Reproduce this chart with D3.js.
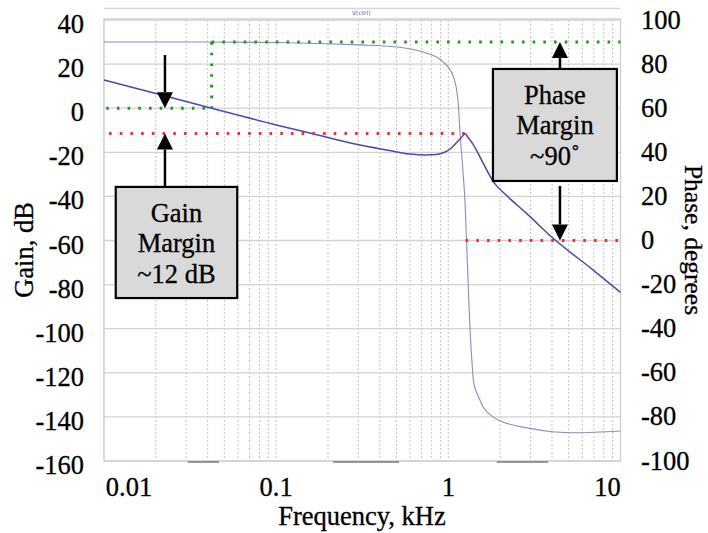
<!DOCTYPE html>
<html>
<head>
<meta charset="utf-8">
<script src="https://cdn.jsdelivr.net/npm/d3@7"></script>
<style>
  html, body { margin: 0; padding: 0; background: #fff; }
  svg { display: block; }
  text { font-family: "Liberation Serif", "Times New Roman", serif; fill: #000; stroke: #000; stroke-width: 0.3px; }
</style>
</head>
<body>
<svg id="chart" width="708" height="533"></svg>
<script>
// ---------------- data ----------------
const freqTicks = [0.01, 0.1, 1, 10];
const freqTickLabels = ["0.01", "0.1", "1", "10"];
const gainTicks = [40, 20, 0, -20, -40, -60, -80, -100, -120, -140, -160];
const phaseTicks = [100, 80, 60, 40, 20, 0, -20, -40, -60, -80, -100];

// Gain (dB) vs frequency (kHz)
const gainFreq = [0.01, 0.02, 0.0422, 0.1, 0.161, 0.307, 0.479, 0.6, 0.75, 0.85, 0.95, 1.05, 1.15, 1.22, 1.25, 1.30, 1.396, 1.595, 1.823, 2.18, 2.846, 4.06, 6.94, 10];
const gainDb   = [12.8, 6.7, 0, -7.6, -11.5, -16.7, -19.5, -20.8, -21.2, -21.0, -20.0, -17.8, -14.5, -12.4, -11.6, -13.2, -16.5, -25.0, -33.3, -39.6, -47.7, -59.0, -73.4, -83.5];

// Phase (degrees) vs frequency (kHz)
const phaseFreq = [0.01, 0.04, 0.1, 0.307, 0.48, 0.75, 0.93, 1.07, 1.14, 1.167, 1.22, 1.249, 1.29, 1.31, 1.34, 1.38, 1.40, 1.50, 1.59, 1.82, 1.95, 2.98, 4.0, 5.5, 10];
const phaseDeg  = [90, 90, 89.8, 88.7, 87.9, 84.9, 81.1, 74.3, 63, 50, 30, 18, -10, -24, -42, -58, -64, -71, -75.4, -80, -81.4, -85.2, -86.7, -87.2, -86.4];

// annotation values
const gainMarginDb = -11.5;
const gainCrossFreq = 0.0422;
const phaseMarginDeg = 90;
const gainRefRange = [0.0103, 0.0422];     // green 0 dB segment
const gainMarginRange = [0.0107, 1.353];   // red gain-margin line
const phaseZeroRange = [1.26, 10];         // red 0 deg line
const gainArrowFreq = 0.0226;
const phaseArrowFreq = 4.45;
const gainBox = { f0: 0.0117, f1: 0.0594, top: -35.7, bottom: -86.1, lines: ["Gain", "Margin", "~12 dB"] };
const phaseBox = { f0: 1.816, f1: 9.53, top: 77.8, bottom: 27, lines: ["Phase", "Margin", "~90\u02DA"] };
const gainArrowTop = 24.1;      // dB
const phaseArrowBottom = 24.7;  // deg
const bottomMarks = [[0.0307, 0.0466], [0.214, 0.517], [1.915, 3.79]];

// ---------------- layout ----------------
const L = 104, R = 620.5, T = 20, B = 461;
const svg = d3.select("#chart");
const x = d3.scaleLog().domain([0.01, 10]).range([L, R]);
const yG = d3.scaleLinear().domain([-160, 40]).range([B, T]);
const yP = d3.scaleLinear().domain([-100, 100]).range([B, T]);

// header strip
svg.append("line").attr("x1", L).attr("x2", R).attr("y1", 8.5).attr("y2", 8.5)
  .attr("stroke", "#d6d6d6").attr("stroke-width", 1.5);
svg.append("text").attr("x", 352).attr("y", 15).attr("font-size", 6)
  .style("fill", "#5a5ad0").style("stroke", "none").style("font-family", "DejaVu Sans").text("V(ctrl)");

// vertical minor grid
const vGrid = [];
[0.01, 0.1, 1].forEach(d => { for (let k = 1; k <= 9; k++) vGrid.push(d * k); });
vGrid.push(10);
svg.append("g").selectAll("line").data(vGrid).join("line")
  .attr("x1", d => x(d)).attr("x2", d => x(d)).attr("y1", T).attr("y2", B)
  .attr("stroke", "#c4c4c4").attr("stroke-width", 1).attr("stroke-dasharray", "2,2");

// horizontal grid
svg.append("g").selectAll("line").data(gainTicks).join("line")
  .attr("x1", L).attr("x2", R).attr("y1", d => yG(d)).attr("y2", d => yG(d))
  .attr("stroke", "#d2d2d2").attr("stroke-width", 1.3);

// frame
svg.append("rect").attr("x", L).attr("y", T - 1).attr("width", R - L).attr("height", B - T + 1)
  .attr("fill", "none").attr("stroke", "#cfcfcf").attr("stroke-width", 1.3);

// bottom marks
svg.append("g").selectAll("line").data(bottomMarks).join("line")
  .attr("x1", d => x(d[0])).attr("x2", d => x(d[1])).attr("y1", B + 1).attr("y2", B + 1)
  .attr("stroke", "#7a7a7a").attr("stroke-width", 1.5);

// curves
const phasePts = phaseFreq.map((f, i) => [f, phaseDeg[i]]);
const gainPts = gainFreq.map((f, i) => [f, gainDb[i]]);
svg.append("path").datum(phasePts)
  .attr("d", d3.line().x(d => x(d[0])).y(d => yP(d[1])).curve(d3.curveMonotoneX))
  .attr("fill", "none").attr("stroke", "#8a8ad0").attr("stroke-width", 1.1);
svg.append("path").datum(gainPts)
  .attr("d", d3.line().x(d => x(d[0])).y(d => yG(d[1])).curve(d3.curveMonotoneX))
  .attr("fill", "none").attr("stroke", "#4848b0").attr("stroke-width", 1.5);

// dotted reference lines
const dot = (x1, y1, x2, y2, col) => svg.append("line")
  .attr("x1", x1).attr("y1", y1).attr("x2", x2).attr("y2", y2)
  .attr("stroke", col).attr("stroke-width", 3).attr("stroke-dasharray", "2.6,8.1");
const green = "#1c9a1c", red = "#ff2a2a";
dot(x(gainRefRange[0]), yG(0), x(gainRefRange[1]), yG(0), green);
dot(x(gainCrossFreq), yP(phaseMarginDeg), x(gainCrossFreq), yG(0), green);
dot(x(gainCrossFreq), yP(phaseMarginDeg), R, yP(phaseMarginDeg), green);
dot(x(gainMarginRange[0]), yG(gainMarginDb), x(gainMarginRange[1]), yG(gainMarginDb), red);
dot(x(phaseZeroRange[0]), yP(0), x(phaseZeroRange[1]), yP(0), red);

// arrows
function arrow(xp, yFrom, yTo) {
  const dir = yTo > yFrom ? 1 : -1;
  const headLen = 16, headW = 8;
  svg.append("line").attr("x1", xp).attr("x2", xp).attr("y1", yFrom).attr("y2", yTo - dir * headLen)
    .attr("stroke", "#000").attr("stroke-width", 2.5);
  svg.append("path")
    .attr("d", `M${xp},${yTo} L${xp - headW},${yTo - dir * headLen} L${xp + headW},${yTo - dir * headLen} Z`)
    .attr("fill", "#000");
}
arrow(x(gainArrowFreq), yG(gainArrowTop), yG(0));
arrow(x(gainArrowFreq), yG(gainBox.top), yG(gainMarginDb));
arrow(x(phaseArrowFreq), yP(phaseBox.top), yP(phaseMarginDeg));
arrow(x(phaseArrowFreq), yP(phaseArrowBottom), yP(0));

// boxes
function box(b, yS) {
  const x0 = x(b.f0), x1 = x(b.f1), y0 = yS(b.top), y1 = yS(b.bottom);
  svg.append("rect").attr("x", x0).attr("y", y0).attr("width", x1 - x0).attr("height", y1 - y0)
    .attr("fill", "#d9d9d9").attr("stroke", "#000").attr("stroke-width", 2.2);
  b.lines.forEach((t, i) => svg.append("text")
    .attr("x", (x0 + x1) / 2).attr("y", y0 + 35 + i * 30.5)
    .attr("text-anchor", "middle").attr("font-size", 26.5).text(t));
}
box(gainBox, yG);
box(phaseBox, yP);

// tick labels
svg.append("g").selectAll("text").data(gainTicks).join("text")
  .attr("x", 84).attr("y", d => yG(d) + 13).attr("text-anchor", "end")
  .attr("font-size", 26.5).text(d => d);
svg.append("g").selectAll("text").data(phaseTicks).join("text")
  .attr("x", 641).attr("y", d => yP(d) + 8.5).attr("text-anchor", "start")
  .attr("font-size", 26.5).text(d => d);
const xLabelShift = [25, 0, 0, -13];
svg.append("g").selectAll("text").data(freqTicks).join("text")
  .attr("x", (d, i) => x(d) + xLabelShift[i]).attr("y", 496).attr("text-anchor", "middle")
  .attr("font-size", 26.5).text((d, i) => freqTickLabels[i]);

// axis titles
svg.append("text").attr("x", 362).attr("y", 525).attr("text-anchor", "middle")
  .attr("font-size", 26.5).text("Frequency, kHz");
svg.append("text").attr("transform", "translate(33,250) rotate(-90)").attr("text-anchor", "middle")
  .attr("font-size", 26.5).text("Gain, dB");
svg.append("text").attr("transform", "translate(685,240) rotate(90)").attr("text-anchor", "middle")
  .attr("font-size", 25.5).text("Phase, degrees");
</script>
</body>
</html>
